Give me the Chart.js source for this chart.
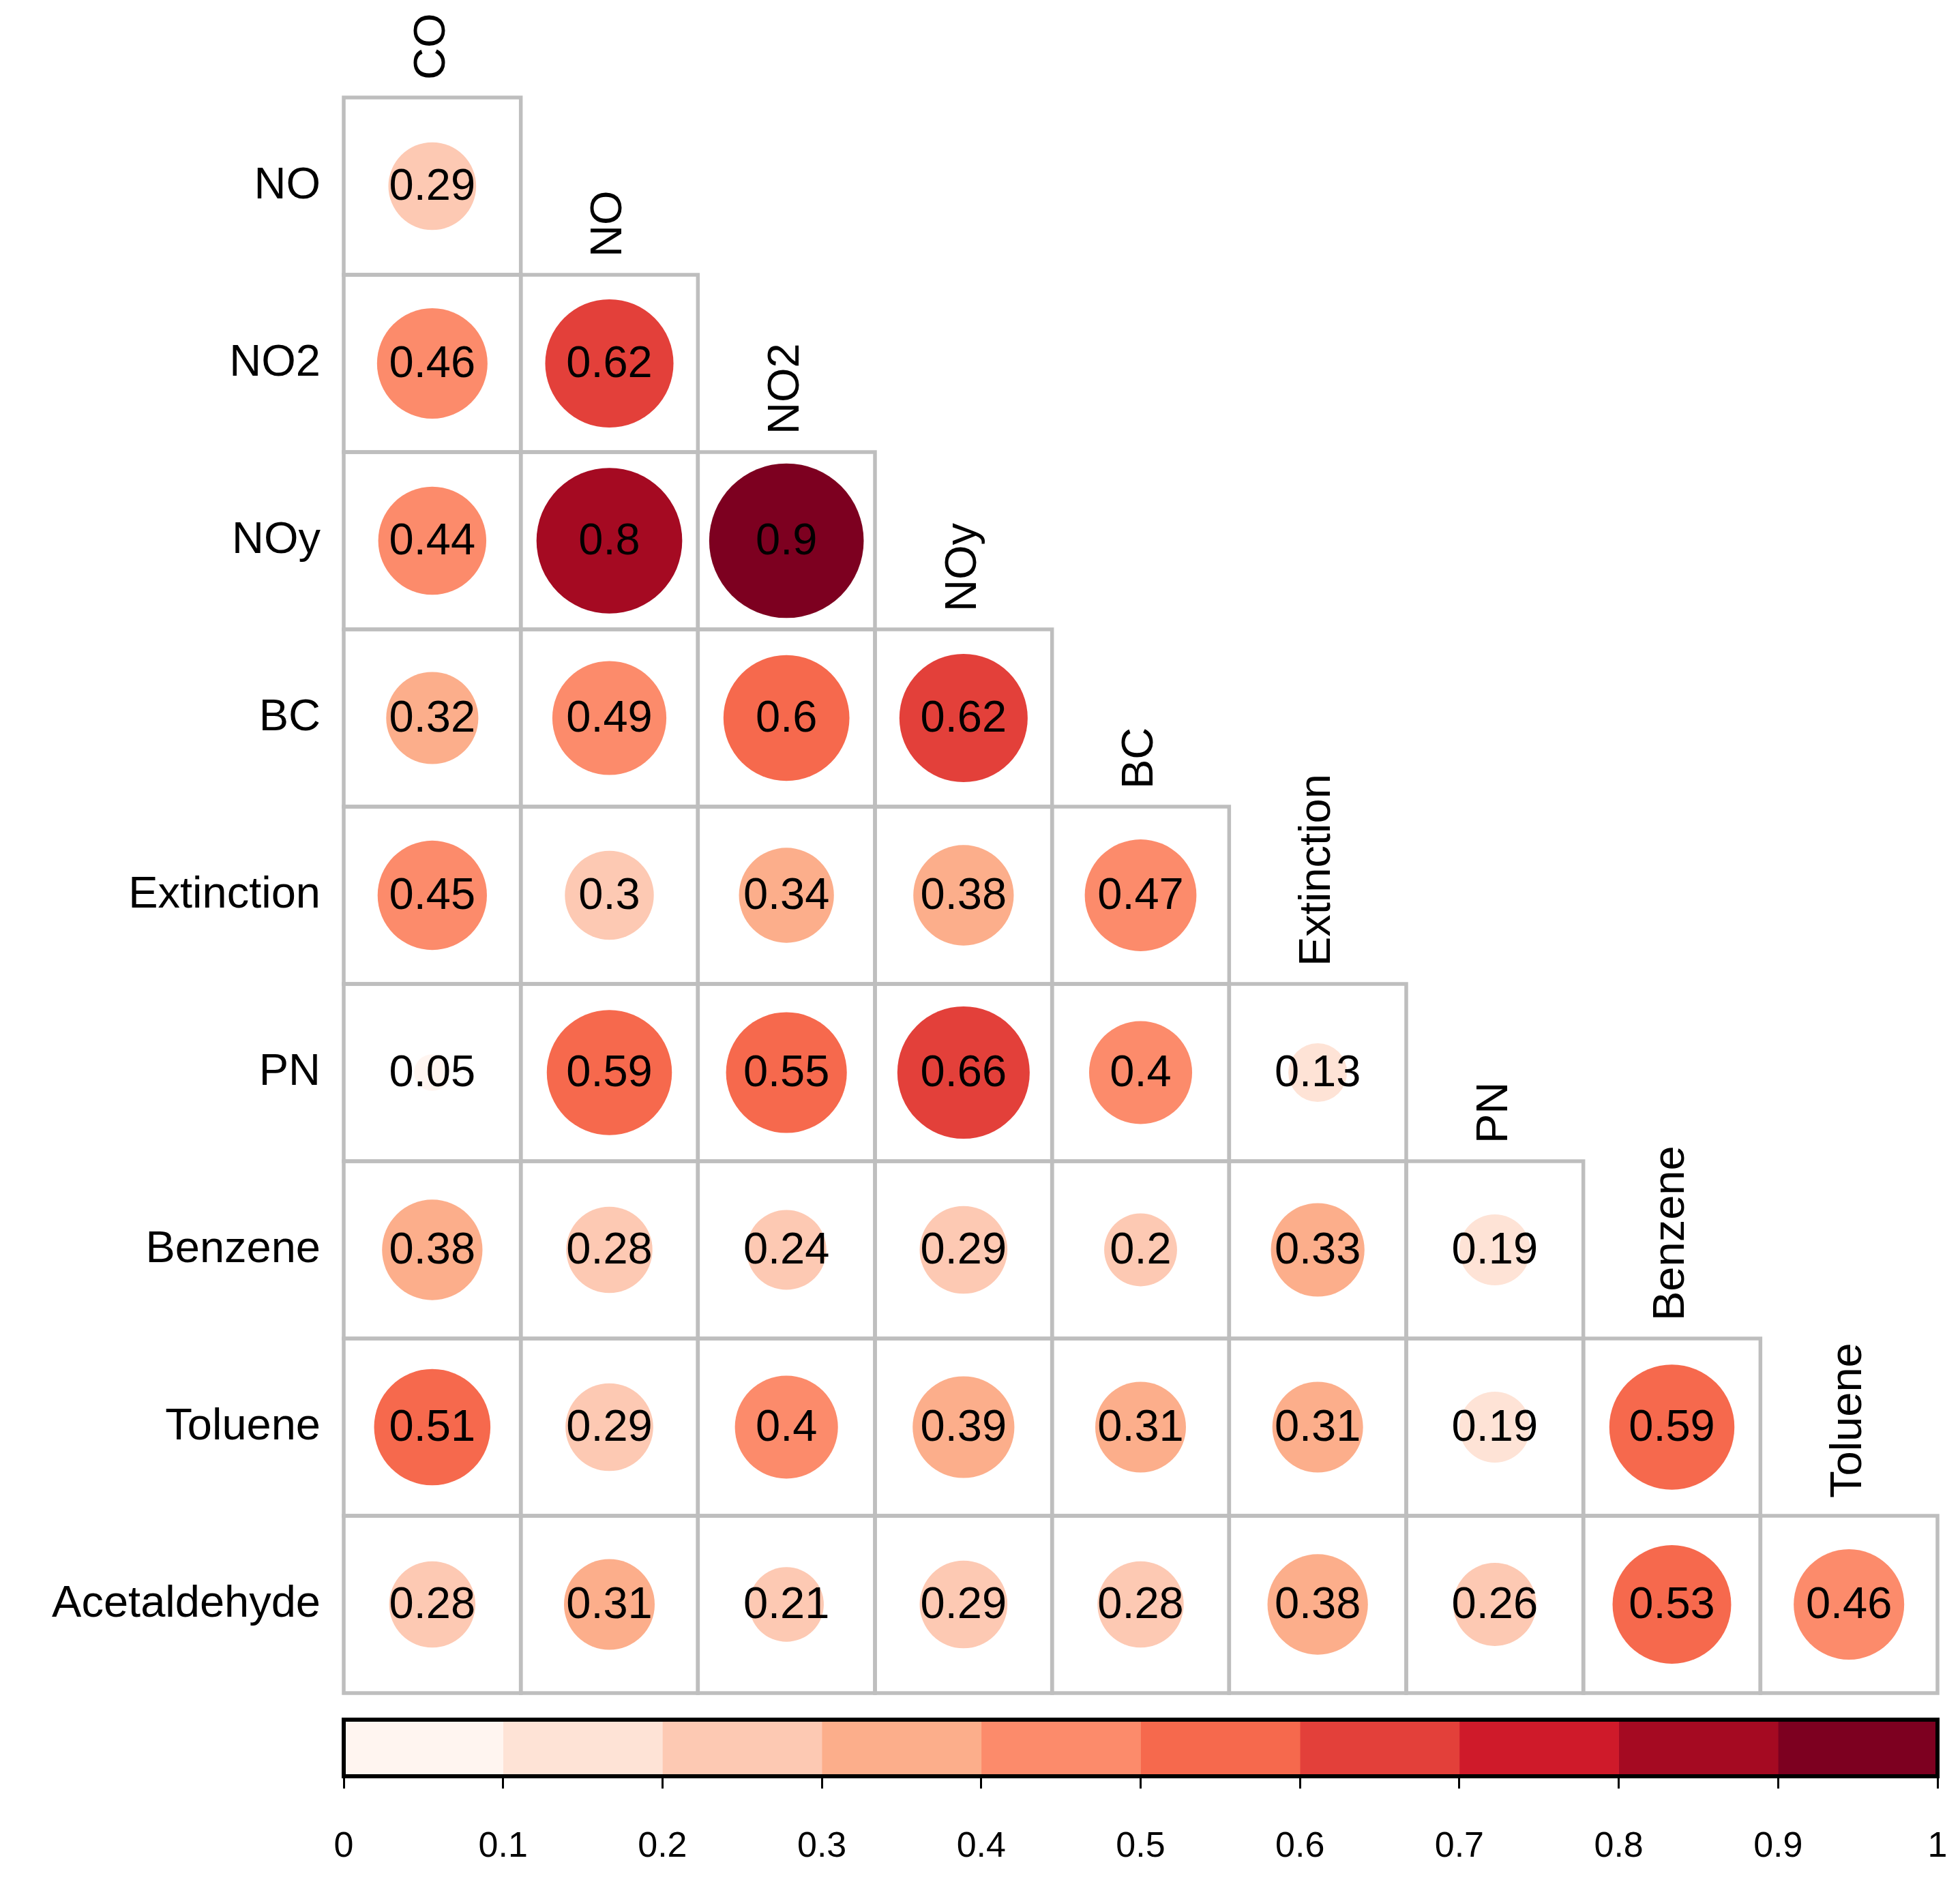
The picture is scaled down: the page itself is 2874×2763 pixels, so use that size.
<!DOCTYPE html>
<html>
<head>
<meta charset="utf-8">
<title>Correlation matrix</title>
<script src="https://cdn.jsdelivr.net/npm/chart.js@4.4.1/dist/chart.umd.min.js"></script>
<style>
  body { margin: 0; background: #ffffff; }
  #wrap { position: relative; width: 2874px; height: 2763px; }
  #matrix { position: absolute; left: 0; top: 0; }
  #colorbar { position: absolute; left: 0; top: 2490px; }
</style>
</head>
<body>
<div id="wrap">
  <canvas id="matrix" width="2874" height="2763"></canvas>
  <canvas id="colorbar" width="2874" height="273"></canvas>
</div>
<script>
const rowLabels = ['NO', 'NO2', 'NOy', 'BC', 'Extinction', 'PN', 'Benzene', 'Toluene', 'Acetaldehyde'];
const colLabels = ['CO', 'NO', 'NO2', 'NOy', 'BC', 'Extinction', 'PN', 'Benzene', 'Toluene'];

// lower triangle, one array per row (columns CO .. Toluene)
const rowNO = [0.29];
const rowNO2 = [0.46, 0.62];
const rowNOy = [0.44, 0.8, 0.9];
const rowBC = [0.32, 0.49, 0.598, 0.62];
const rowExtinction = [0.45, 0.298, 0.34, 0.38, 0.47];
const rowPN = [0.05, 0.59, 0.55, 0.66, 0.4, 0.13];
const rowBenzene = [0.38, 0.28, 0.24, 0.29, 0.2, 0.33, 0.19];
const rowToluene = [0.51, 0.29, 0.4, 0.39, 0.31, 0.31, 0.19, 0.59];
const rowAcetaldehyde = [0.28, 0.31, 0.21, 0.29, 0.28, 0.38, 0.26, 0.53, 0.46];

const colorBreaks = [0, 0.1, 0.2, 0.3, 0.4, 0.5, 0.6, 0.7, 0.8, 0.9, 1];
const binColors = ['#FFF5F0', '#FEE3D6', '#FDC9B3', '#FCAE8B', '#FC8B6B',
                   '#F6694D', '#E3403A', '#CF1A2A', '#A50A22', '#7D0020'];

const FONT = "'Liberation Sans', Arial, Helvetica, sans-serif";

const rows = [rowNO, rowNO2, rowNOy, rowBC, rowExtinction, rowPN, rowBenzene, rowToluene, rowAcetaldehyde];
const points = [];
rows.forEach(function(vals, i) {
  vals.forEach(function(v, j) {
    points.push({ x: j, y: i, v: v });
  });
});

function binColor(v) {
  let k = Math.floor(Math.abs(v) * 10);
  if (k > 9) k = 9;
  return binColors[k];
}

function cellSize(chart) {
  const xs = chart.scales.x;
  const s = xs.getPixelForValue(1) - xs.getPixelForValue(0);
  return isFinite(s) ? s : 0;
}

// grid boxes, row labels and column labels
const gridPlugin = {
  id: 'gridPlugin',
  beforeDatasetsDraw: function(chart) {
    const ctx = chart.ctx;
    const xs = chart.scales.x;
    const ys = chart.scales.y;
    ctx.save();
    ctx.strokeStyle = '#BEBEBE';
    ctx.lineWidth = 5.5;
    rows.forEach(function(vals, i) {
      vals.forEach(function(v, j) {
        const x0 = xs.getPixelForValue(j - 0.5);
        const x1 = xs.getPixelForValue(j + 0.5);
        const y0 = ys.getPixelForValue(i - 0.5);
        const y1 = ys.getPixelForValue(i + 0.5);
        ctx.strokeRect(x0, y0, x1 - x0, y1 - y0);
      });
    });

    ctx.fillStyle = '#000000';
    ctx.font = '65px ' + FONT;
    ctx.textAlign = 'right';
    ctx.textBaseline = 'middle';
    rowLabels.forEach(function(lab, i) {
      ctx.fillText(lab, xs.getPixelForValue(-0.5) - 34, ys.getPixelForValue(i));
    });

    ctx.textAlign = 'left';
    colLabels.forEach(function(lab, j) {
      ctx.save();
      ctx.translate(xs.getPixelForValue(j), ys.getPixelForValue(j - 0.5) - 26);
      ctx.rotate(-Math.PI / 2);
      ctx.fillText(lab, 0, 0);
      ctx.restore();
    });
    ctx.restore();
  },
  afterDatasetsDraw: function(chart) {
    const ctx = chart.ctx;
    const meta = chart.getDatasetMeta(0);
    ctx.save();
    ctx.fillStyle = '#000000';
    ctx.font = '65px ' + FONT;
    ctx.textAlign = 'center';
    ctx.textBaseline = 'middle';
    meta.data.forEach(function(el, idx) {
      const v = points[idx].v;
      ctx.fillText(String(Math.round(v * 100) / 100), el.x, el.y + 2);
    });
    ctx.restore();
  }
};

new Chart(document.getElementById('matrix'), {
  type: 'scatter',
  data: {
    datasets: [{
      data: points,
      showLine: false,
      pointBackgroundColor: function(c) { return c.raw ? binColor(c.raw.v) : '#ffffff'; },
      pointBorderWidth: 0,
      pointRadius: function(c) {
        if (!c.raw) return 0;
        return 0.46 * Math.sqrt(Math.abs(c.raw.v)) * cellSize(c.chart);
      }
    }]
  },
  options: {
    responsive: false,
    animation: false,
    devicePixelRatio: 1,
    events: [],
    layout: { padding: { left: 504, right: 33, top: 143, bottom: 280 } },
    plugins: { legend: { display: false }, tooltip: { enabled: false } },
    scales: {
      x: { type: 'linear', min: -0.5, max: 8.5, display: false },
      y: { type: 'linear', min: -0.5, max: 8.5, reverse: true, display: false }
    }
  },
  plugins: [gridPlugin]
});

// colour key: frame and tick labels
const framePlugin = {
  id: 'framePlugin',
  afterDatasetsDraw: function(chart) {
    const a = chart.chartArea;
    const ctx = chart.ctx;
    const xs = chart.scales.x;
    ctx.save();
    ctx.strokeStyle = '#000000';
    ctx.lineWidth = 6;
    ctx.strokeRect(a.left, a.top, a.right - a.left, a.bottom - a.top);

    ctx.fillStyle = '#000000';
    ctx.font = '52px ' + FONT;
    ctx.textAlign = 'center';
    ctx.textBaseline = 'middle';
    colorBreaks.forEach(function(b) {
      ctx.fillText(String(b), xs.getPixelForValue(b), a.bottom + 104);
    });
    ctx.restore();
  }
};

new Chart(document.getElementById('colorbar'), {
  type: 'bar',
  data: {
    labels: ['key'],
    datasets: binColors.map(function(c, k) {
      return {
        data: [[colorBreaks[k], colorBreaks[k + 1]]],
        backgroundColor: c,
        borderWidth: 0,
        grouped: false,
        barPercentage: 1,
        categoryPercentage: 1
      };
    })
  },
  options: {
    indexAxis: 'y',
    responsive: false,
    animation: false,
    devicePixelRatio: 1,
    events: [],
    layout: { padding: { left: 504, right: 33, top: 32, bottom: 140 } },
    plugins: { legend: { display: false }, tooltip: { enabled: false } },
    scales: {
      x: {
        type: 'linear',
        min: 0,
        max: 1,
        border: { display: false },
        grid: { drawOnChartArea: false, drawTicks: true, tickLength: 18, color: '#000000', lineWidth: 3 },
        ticks: { stepSize: 0.1, display: false }
      },
      y: { display: false }
    }
  },
  plugins: [framePlugin]
});
</script>
</body>
</html>
